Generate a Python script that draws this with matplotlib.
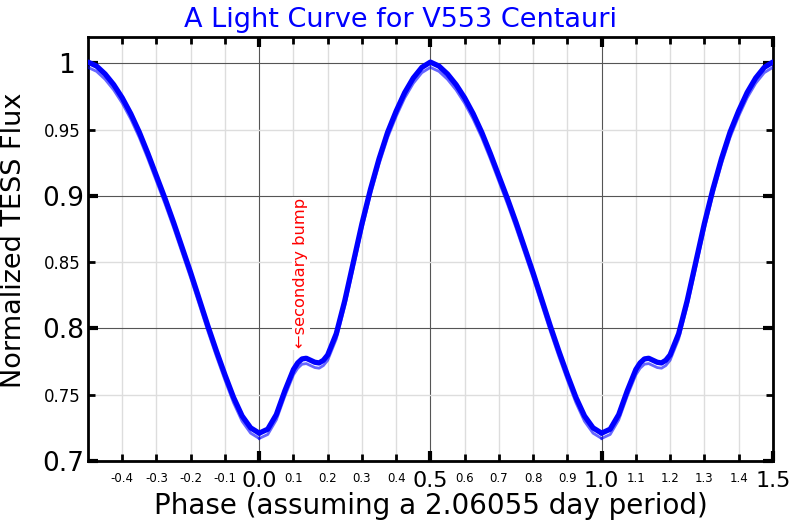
import numpy as np
import matplotlib.pyplot as plt
from matplotlib.ticker import FixedLocator

# Phase-folded light curve, one cycle (phase 0..1)
phase = [0.0, 0.025, 0.05, 0.075, 0.1, 0.1125, 0.125, 0.1375, 0.15, 0.1625,
         0.175, 0.1875, 0.2, 0.225, 0.25, 0.275, 0.3, 0.325, 0.35, 0.375,
         0.4, 0.425, 0.45, 0.475, 0.5, 0.525, 0.55, 0.575, 0.6, 0.625,
         0.65, 0.675, 0.7, 0.725, 0.75, 0.775, 0.8, 0.825, 0.85, 0.875,
         0.9, 0.925, 0.95, 0.975, 1.0]
flux = [0.721, 0.724, 0.735, 0.753, 0.769, 0.774, 0.777, 0.7775, 0.776, 0.7745,
        0.774, 0.776, 0.780, 0.796, 0.821, 0.850, 0.879, 0.905, 0.928, 0.948,
        0.964, 0.978, 0.989, 0.997, 1.001, 0.998, 0.992, 0.984, 0.974, 0.962,
        0.948, 0.932, 0.915, 0.898, 0.880, 0.861, 0.842, 0.822, 0.802, 0.783,
        0.765, 0.748, 0.734, 0.725, 0.721]

cycles = [-1, 0, 1]
x_minor_labels = ['-0.4', '-0.3', '-0.2', '-0.1', '0.1', '0.2', '0.3', '0.4',
                  '0.6', '0.7', '0.8', '0.9', '1.1', '1.2', '1.3', '1.4']
x_major_labels = ['0.0', '0.5', '1.0', '1.5']
y_major_ticks = [0.7, 0.8, 0.9, 1.0]
y_major_labels = ['0.7', '0.8', '0.9', '1 ']
y_minor_labels = ['0.75', '0.85', '0.95']

fig = plt.figure(figsize=(8, 5.2), dpi=100)
ax = fig.add_axes([0.11, 0.1135, 0.856, 0.8155])

ph = np.array(phase)
fl = np.array(flux)
for c in cycles:
    ax.plot(ph + c, fl, color='blue', lw=3.8, solid_joinstyle='round',
            solid_capstyle='round', zorder=3)
    ax.plot(ph + c, fl - 0.004, color='blue', lw=2.0, alpha=0.6,
            solid_joinstyle='round', zorder=3)

ax.set_xlim(-0.5, 1.5)
ax.set_ylim(0.7, 1.02)

# ticks: big labels on major, small on minor
ax.xaxis.set_major_locator(FixedLocator([float(v) for v in x_major_labels]))
ax.set_xticklabels(x_major_labels, fontsize=16)
ax.xaxis.set_minor_locator(FixedLocator([float(v) for v in x_minor_labels]))
ax.set_xticklabels(x_minor_labels, minor=True, fontsize=8.5)
ax.yaxis.set_major_locator(FixedLocator(y_major_ticks))
ax.set_yticklabels(y_major_labels, fontsize=19)
ax.yaxis.set_minor_locator(FixedLocator([float(v) for v in y_minor_labels]))
ax.set_yticklabels(y_minor_labels, minor=True, fontsize=12)

ax.tick_params(which='both', direction='in', top=True, right=True)
ax.tick_params(which='major', length=7, width=3, pad=3)
ax.tick_params(which='minor', length=5, width=2, pad=5)
ax.tick_params(axis='x', which='major', pad=7)
ax.tick_params(axis='x', which='minor', pad=8)

ax.grid(True, which='major', color='#555555', lw=0.8, zorder=0)
ax.grid(True, which='minor', color='#dddddd', lw=1.0, zorder=0)
for s in ax.spines.values():
    s.set_linewidth(2)

fig.text(0.5, 0.948, 'A Light Curve for V553 Centauri', color='blue',
         fontsize=19.5, ha='center', va='baseline')
ax.set_xlabel('Phase (assuming a 2.06055 day period)', fontsize=20)
ax.xaxis.set_label_coords(0.5, -0.072)
ax.set_ylabel('Normalized TESS Flux', fontsize=19.5)
ax.yaxis.set_label_coords(-0.089, 0.521)

ax.text(0.122, 0.785, '\u2190secondary bump', rotation=90, color='red',
        fontsize=11.7, ha='center', va='bottom', zorder=4,
        bbox=dict(facecolor='white', edgecolor='none', pad=1))

plt.savefig('out.png', dpi=100)
